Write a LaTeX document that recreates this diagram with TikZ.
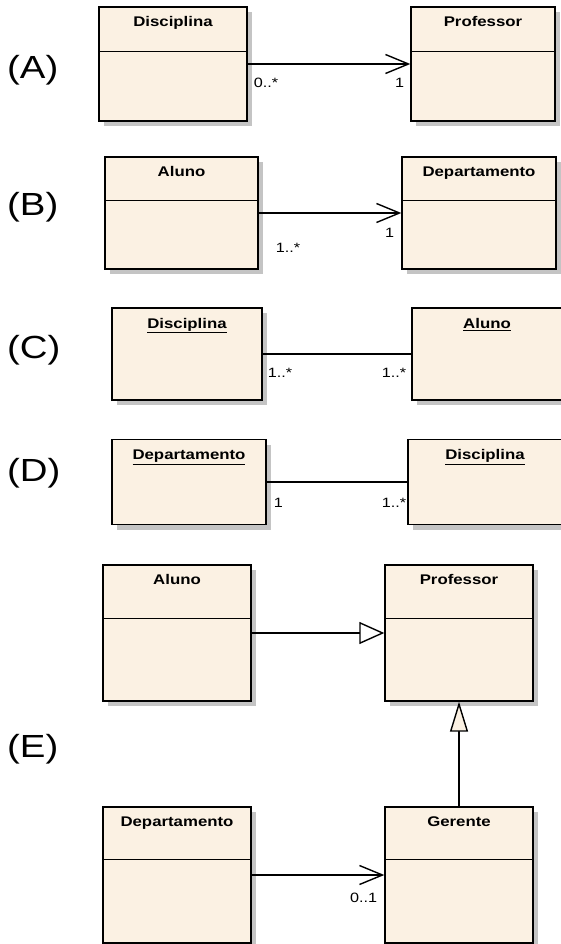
\documentclass[tikz,border=0pt]{standalone}
\usepackage{fontspec}
\setmainfont{Liberation Sans}[FakeStretch=1.2]
\definecolor{classfill}{RGB}{251,241,227}
\definecolor{shadowgray}{RGB}{196,196,196}
\usepackage{tikz}
\usetikzlibrary{arrows.meta, shadows}

\begin{document}
\begin{tikzpicture}[x=1pt, y=-1pt,
  classbox/.style={draw, line width=1.4pt, fill=classfill, inner sep=0pt,
    drop shadow={shadow xshift=5pt, shadow yshift=-5pt, fill=shadowgray, opacity=1}},
  ctitle/.style={anchor=base, inner sep=0pt, font=\fontsize{14}{16}\selectfont\bfseries},
  mult/.style={inner sep=0pt, font=\fontsize{13.5}{16}\selectfont},
  tag/.style={anchor=base west, inner sep=0pt, font=\fontsize{32}{38}\selectfont},
  assoc/.style={line width=1.4pt},
  nav/.style={assoc, -{Straight Barb[length=23pt, width=19pt]}}]
  \useasboundingbox (0,0) rectangle (560,944);

  % Tags
  \foreach \t/\y in {A/79, B/215, C/358, D/481, E/757}
    \node[tag] (tag\t) at (7,\y) {(\t)};

  % (A)
  \node[classbox, minimum width=148pt, minimum height=114pt] (discA) at (173,64) {};
  \node[classbox, minimum width=144pt, minimum height=114pt] (profA) at (483,64) {};
  \node[ctitle] (tdiscA) at ([yshift=-20pt]discA.north) {Disciplina};
  \node[ctitle] (tprofA) at ([yshift=-20pt]profA.north) {Professor};
  \draw[nav] (discA.east) -- (profA.west);
  \node[mult, anchor=base west] (mA1) at ([xshift=6pt, yshift=-24pt]discA.east) {0..*};
  \node[mult, anchor=base east] (mA2) at ([xshift=-6pt, yshift=-24pt]profA.west) {1};

  % (B)
  \node[classbox, minimum width=153pt, minimum height=112pt] (alunoB) at (181.5,213) {};
  \node[classbox, minimum width=154pt, minimum height=112pt] (deptB) at (479,213) {};
  \node[ctitle] (talunoB) at ([yshift=-20pt]alunoB.north) {Aluno};
  \node[ctitle] (tdeptB) at ([yshift=-20pt]deptB.north) {Departamento};
  \draw[nav] (alunoB.east) -- (deptB.west);
  \node[mult, anchor=base west] (mB1) at ([xshift=17pt, yshift=-39pt]alunoB.east) {1..*};
  \node[mult, anchor=base east] (mB2) at ([xshift=-7pt, yshift=-24pt]deptB.west) {1};

  % (C) objects
  \node[classbox, minimum width=150pt, minimum height=92pt] (discC) at (187,354) {};
  \node[classbox, minimum width=150pt, minimum height=92pt] (alunoC) at (487,354) {};
  \node[ctitle] (tdiscC) at ([yshift=-21pt]discC.north) {\underline{Disciplina}};
  \node[ctitle] (talunoC) at ([yshift=-21pt]alunoC.north) {\underline{Aluno}};
  \draw[assoc] (discC.east) -- (alunoC.west);
  \node[mult, anchor=base west] (mC1) at ([xshift=5pt, yshift=-23pt]discC.east) {1..*};
  \node[mult, anchor=base east] (mC2) at ([xshift=-5pt, yshift=-23pt]alunoC.west) {1..*};

  % (D) objects
  \node[classbox, minimum width=154pt, minimum height=85pt] (deptD) at (189,482) {};
  \node[classbox, minimum width=154pt, minimum height=85pt] (discD) at (485,482) {};
  \node[ctitle] (tdeptD) at ([yshift=-21pt]deptD.north) {\underline{Departamento}};
  \node[ctitle] (tdiscD) at ([yshift=-21pt]discD.north) {\underline{Disciplina}};
  \draw[assoc] (deptD.east) -- (discD.west);
  \node[mult, anchor=base west] (mD1) at ([xshift=7pt, yshift=-25pt]deptD.east) {1};
  \node[mult, anchor=base east] (mD2) at ([xshift=-1pt, yshift=-25pt]discD.west) {1..*};

  % (E)
  \node[classbox, minimum width=148pt, minimum height=136pt] (alunoE) at (177,633) {};
  \node[classbox, minimum width=148pt, minimum height=136pt] (profE) at (459,633) {};
  \node[classbox, minimum width=148pt, minimum height=136pt] (deptE) at (177,875) {};
  \node[classbox, minimum width=148pt, minimum height=136pt] (gerE) at (459,875) {};
  \node[ctitle] (talunoE) at ([yshift=-20pt]alunoE.north) {Aluno};
  \node[ctitle] (tprofE) at ([yshift=-20pt]profE.north) {Professor};
  \node[ctitle] (tdeptE) at ([yshift=-20pt]deptE.north) {Departamento};
  \node[ctitle] (tgerE) at ([yshift=-20pt]gerE.north) {Gerente};
  \draw[assoc, -{Triangle[open, length=25pt, width=22pt, fill=white]}] (alunoE.east) -- (profE.west);
  \draw[assoc, -{Triangle[open, length=30pt, width=18pt, fill=classfill]}] (gerE.north) -- (profE.south);
  \draw[nav] (deptE.east) -- (gerE.west);
  \node[mult, anchor=base east] (mE1) at ([xshift=-7pt, yshift=-27pt]gerE.west) {0..1};

  % compartments
  \foreach \n/\d in {discA/45, profA/45, alunoB/44, deptB/44,
                     alunoE/54, profE/54, deptE/53, gerE/53}
    \draw[line width=1.2pt] ([yshift=-\d pt]\n.north west) -- ([yshift=-\d pt]\n.north east);
\end{tikzpicture}
\end{document}
